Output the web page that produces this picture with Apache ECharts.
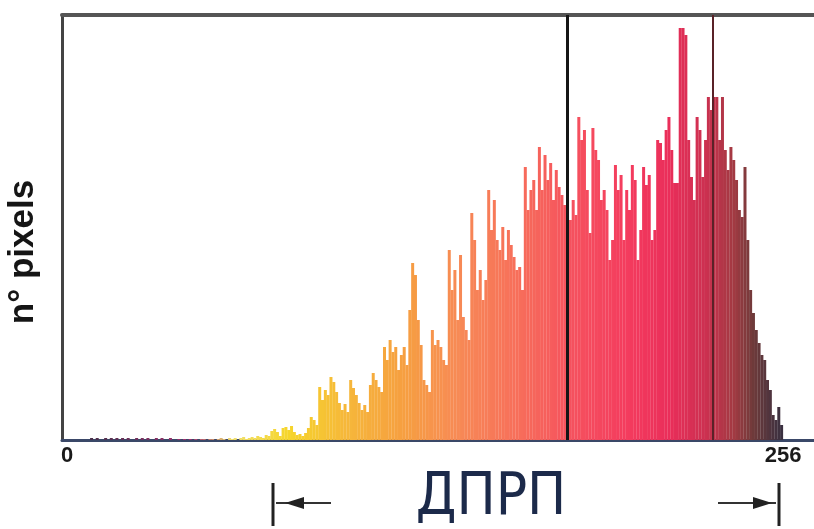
<!DOCTYPE html>
<html>
<head>
<meta charset="utf-8">
<script src="https://cdn.jsdelivr.net/npm/echarts@6/dist/echarts.min.js"></script>
<style>html,body{margin:0;padding:0;background:#fff}#c{width:814px;height:529px}</style>
</head>
<body>
<div id="c"></div>
<script>
// Histogram of a 0..255 channel: one count per bin (arbitrary units)
var counts = [
  0,0,0,0,0,0,0,0,0,0,
  2,0,2,0,0,2,0,2,0,2,
  0,2,0,2,0,0,2,0,2,0,
  2,0,0,2,0,2,0,0,2,0,
  0,1,0,1,0,1,0,1,0,1,
  1,0,1,1,0,1,2,1,0,2,
  1,2,0,2,3,1,2,3,2,4,
  3,2,5,4,9,11,8,4,12,13,
  10,14,8,5,6,4,7,12,23,20,
  15,53,40,50,45,63,58,48,37,30,
  36,28,60,52,45,37,30,35,28,55,
  67,60,53,48,93,80,100,88,93,70,
  85,93,75,130,177,165,120,95,60,55,
  48,110,95,100,93,80,75,190,150,170,
  120,185,123,110,100,227,200,150,170,140,
  160,250,210,240,200,190,213,180,210,195,
  183,170,173,150,273,230,250,260,230,293,
  250,285,260,277,240,270,253,245,235,240,
  220,240,225,323,300,310,250,207,312,290,
  280,240,250,230,180,200,275,250,265,200,
  250,230,275,260,180,210,273,255,265,200,
  210,300,297,280,310,323,290,257,257,412,
  412,405,300,263,240,323,310,263,300,343,
  330,343,343,300,343,290,270,293,280,260,
  230,223,273,200,150,127,110,97,85,80,
  60,50,25,20,33,15
];
var xTicks = [0, 256];
var markers = [179.5, 231];
var yTitle = 'n° pixels';
var xTitle = 'ДПРП';

var stops = [
  [0,'#303040'],[45,'#a03070'],[60,'#f0e070'],[80,'#f6d52a'],[100,'#f6b83a'],
  [120,'#f6a040'],[140,'#f78a55'],[160,'#f7705a'],[180,'#f5525e'],[200,'#f43c5e'],
  [215,'#ea2e5a'],[228,'#cc3050'],[238,'#a23a42'],[245,'#6e3a3a'],[255,'#3a3040']
];
function hex(c){return [parseInt(c.substr(1,2),16),parseInt(c.substr(3,2),16),parseInt(c.substr(5,2),16)];}
function colorAt(i){
  for (var k=0;k<stops.length-1;k++){
    if (i>=stops[k][0] && i<=stops[k+1][0]){
      var t=(i-stops[k][0])/(stops[k+1][0]-stops[k][0]);
      var a=hex(stops[k][1]), b=hex(stops[k+1][1]);
      return 'rgb('+a.map(function(v,j){return Math.round(v+(b[j]-v)*t);}).join(',')+')';
    }
  }
  return stops[stops.length-1][1];
}

var chart = echarts.init(document.getElementById('c'));
chart.setOption({
  animation:false,
  grid:{left:62, top:15, right:0, height:425},
  xAxis:[{type:'value', min:0, max:267, interval:xTicks[1]-xTicks[0],
    axisLine:{show:true, onZero:false, lineStyle:{color:'#3a4868', width:3}},
    axisTick:{show:false}, splitLine:{show:false},
    axisLabel:{showMaxLabel:false, margin:5,
      formatter:function(v){return v===xTicks[0] ? '{a|'+v+'}' : (v===xTicks[1] ? '{b|'+v+'}' : '');},
      rich:{
        a:{color:'#1a1a1a', fontWeight:'bold', fontSize:22, fontFamily:'Liberation Sans', padding:[0,0,0,10]},
        b:{color:'#1a1a1a', fontWeight:'bold', fontSize:22, fontFamily:'Liberation Sans', padding:[0,0,0,0]}
      }}
  },{type:'value', min:0, max:267, position:'top',
    axisLine:{show:true, onZero:false, lineStyle:{color:'#555', width:4}},
    axisTick:{show:false}, axisLabel:{show:false}, splitLine:{show:false}}],
  yAxis:{type:'value', min:0, max:425,
    axisLine:{show:true, onZero:false, lineStyle:{color:'#444', width:3}},
    axisTick:{show:false}, axisLabel:{show:false}, splitLine:{show:false}},
  series:[{
    type:'bar', barWidth:3, silent:true, xAxisIndex:0,
    data:counts.map(function(v,i){return {value:[i+0.5, v], itemStyle:{color:colorAt(i)}};}),
    markLine:{silent:true, symbol:'none', label:{show:false},
      data:[
        {xAxis:markers[0], lineStyle:{color:'#151515', width:3, type:'solid'}},
        {xAxis:markers[1], lineStyle:{color:'#5a2228', width:2, type:'solid'}}
      ]}
  }],
  graphic:[
    {type:'text', x:23, y:252, rotation:Math.PI/2,
      style:{text:yTitle, fill:'#151515', font:'bold 35px "Liberation Sans"', align:'center', verticalAlign:'middle'}},
    {type:'text', x:491, y:499,
      style:{text:xTitle, fill:'#1c2a4a', font:'58px "DejaVu Sans Condensed", "DejaVu Sans"', align:'center', verticalAlign:'middle'}},
    {type:'line', shape:{x1:273,y1:483,x2:273,y2:526}, style:{stroke:'#222', lineWidth:3}},
    {type:'line', shape:{x1:276,y1:503,x2:331,y2:503}, style:{stroke:'#333', lineWidth:2}},
    {type:'polygon', shape:{points:[[285,503],[304,497],[304,509]]}, style:{fill:'#222'}},
    {type:'line', shape:{x1:779,y1:483,x2:779,y2:526}, style:{stroke:'#222', lineWidth:3}},
    {type:'line', shape:{x1:718,y1:503,x2:776,y2:503}, style:{stroke:'#333', lineWidth:2}},
    {type:'polygon', shape:{points:[[772,503],[753,497],[753,509]]}, style:{fill:'#222'}}
  ]
});
</script>
</body>
</html>
